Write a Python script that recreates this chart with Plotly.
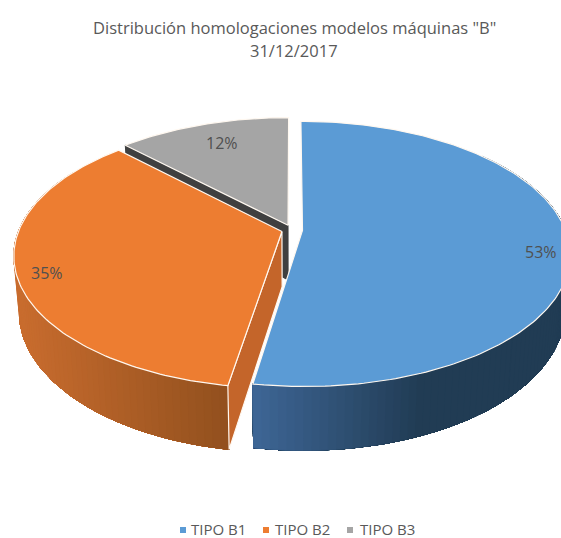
import math
import plotly.graph_objects as go

categories = ["TIPO B1", "TIPO B2", "TIPO B3"]
values = [52.6, 35.0, 12.4]
top_colors = ["#5B9BD5", "#ED7D31", "#A5A5A5"]
title_lines = ['Distribución homologaciones modelos máquinas "B"', "31/12/2017"]

W, H = 561, 538
CX, CY, R, A, K = 292, 230, 263, 128.3, 0.177
DEPTH, SHRINK, EXPLODE = 55.0, 0.02, 0.04
EDGE = "#FFF8F0"


def proj(u, v, z=0.0):
    s = 1 - SHRINK * z
    d = 1 + K * v
    return CX + R * u * s / d, CY - A * v * s / d + DEPTH * z / d


def lerp(c1, c2, t):
    t = max(0.0, min(1.0, t))
    return "rgb(%d,%d,%d)" % tuple(round(a + (b - a) * t) for a, b in zip(c1, c2))


fig = go.Figure()


def poly(pts, fill, line=None, lw=1.0):
    xs = [p[0] for p in pts] + [pts[0][0]]
    ys = [p[1] for p in pts] + [pts[0][1]]
    fig.add_trace(go.Scatter(
        x=xs, y=ys, mode="lines", fill="toself", fillcolor=fill,
        line=dict(color=line or fill, width=lw),
        hoverinfo="skip", showlegend=False))


# angular extents of each slice
total = sum(values)
slices = []
a0 = 0.0
for i, val in enumerate(values):
    a1 = a0 + 360 * val / total
    mid = math.radians((a0 + a1) / 2)
    off = (EXPLODE * math.sin(mid), EXPLODE * math.cos(mid))
    slices.append((a0, a1, off))
    a0 = a1


def rim(i, deg, z=0.0):
    off = slices[i][2]
    t = math.radians(deg)
    return proj(off[0] + math.sin(t), off[1] + math.cos(t), z)


def apex(i, z=0.0):
    off = slices[i][2]
    return proj(off[0], off[1], z)


def arc(i, d0, d1, z=0.0, step=1.0):
    n = max(2, int(abs(d1 - d0) / step))
    return [rim(i, d0 + (d1 - d0) * j / n, z) for j in range(n + 1)]


def side(i, d0, d1, c_from, c_to, x_from, x_to, step=1.5):
    # painter's order: every strip reaches to the far end so no seams show
    n = max(1, int(abs(d1 - d0) / step))
    for j in range(n):
        p = d0 + (d1 - d0) * j / n
        q = d0 + (d1 - d0) * (j + 1) / n
        xm = (rim(i, p)[0] + rim(i, q)[0]) / 2
        col = lerp(c_from, c_to, (xm - x_from) / (x_to - x_from))
        pts = arc(i, p, d1, 0, 1.5) + arc(i, d1, p, 1, 1.5)
        poly(pts, col, col, 0.5)


# third slice: dark cut face, then top
g0, g1, _ = slices[2]
poly([rim(2, g0), apex(2), apex(2, 1), rim(2, g0, 1)], "#404040")
poly([apex(2)] + arc(2, g0, g1), top_colors[2], EDGE, 1.2)

# second slice: outer wall, cut face, top
o0, o1, _ = slices[1]
side(1, 300, o0, (200, 108, 46), (146, 80, 30), 20, 226)
poly([apex(1), rim(1, o0), rim(1, o0, 1), apex(1, 1)], "#C4652A", EDGE, 1.2)
poly([apex(1)] + arc(1, o0, o1), top_colors[1], EDGE, 1.2)

# first slice: outer wall, top
b0, b1, _ = slices[0]
side(0, 50, b1, (33, 60, 84), (62, 102, 150), 420, 252)
poly([apex(0)] + arc(0, b0, b1), top_colors[0], EDGE, 1.2)

# percentage labels, placed on the pie's ground plane
label_ground = [(0.919, -0.166), (-0.88, -0.316), (-0.302, 0.77)]
for val, (gu, gv) in zip(values, label_ground):
    lx, ly = proj(gu, gv)
    fig.add_annotation(x=lx, y=ly, text=f"{round(val)}%", showarrow=False,
                       font=dict(family="Open Sans", size=16, color="#505050"))

# legend row
legend_marker_x = [183, 266, 350]
legend_text_x = [190, 274, 359]
for name, col, mx, tx in zip(categories, top_colors, legend_marker_x, legend_text_x):
    fig.add_trace(go.Scatter(x=[mx], y=[530], mode="markers",
                             marker=dict(symbol="square", size=6, color=col),
                             hoverinfo="skip", showlegend=False))
    fig.add_annotation(x=tx, y=528.5, text=name, showarrow=False, xanchor="left", borderpad=0,
                       font=dict(family="Open Sans", size=15, color="#595959"))

fig.add_annotation(x=294, y=27, text=title_lines[0], showarrow=False,
                   font=dict(family="Open Sans", size=16.5, color="#595959"))
fig.add_annotation(x=294, y=50, text=title_lines[1], showarrow=False,
                   font=dict(family="Open Sans", size=16.5, color="#595959"))

fig.update_layout(
    width=W, height=H, margin=dict(l=0, r=0, t=0, b=0),
    paper_bgcolor="white", plot_bgcolor="white", showlegend=False,
    xaxis=dict(range=[0, W], visible=False, fixedrange=True),
    yaxis=dict(range=[H, 0], visible=False, fixedrange=True),
)
fig.write_html("out.html", config=dict(displayModeBar=False),
               post_script="document.body.style.margin='0';")
